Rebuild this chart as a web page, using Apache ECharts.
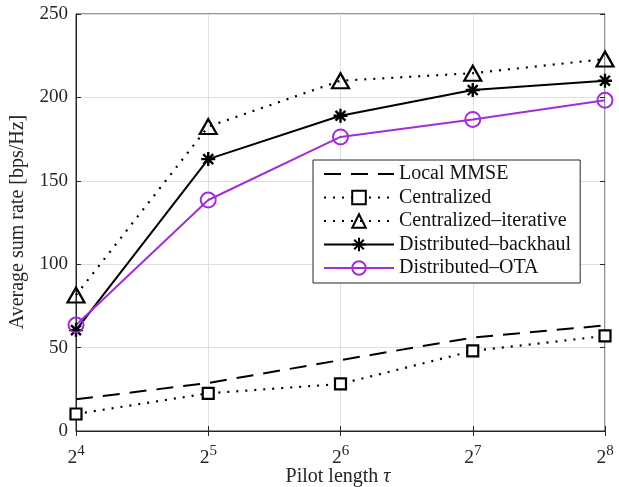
<!DOCTYPE html>
<html><head><meta charset="utf-8">
<script src="https://cdn.jsdelivr.net/npm/echarts@6/dist/echarts.min.js"></script>
<style>html,body{margin:0;padding:0;background:#fff}#c{width:619px;height:487px}</style>
</head><body><div id="c"></div>
<script>
var exponents = [4, 5, 6, 7, 8];
var localMMSE = [19, 28.8, 42.5, 56, 63.3];
var centralized = [10.2, 22.6, 28.2, 48, 57];
var centralizedIter = [81.5, 182.5, 210, 214.5, 223];
var distBackhaul = [60.5, 163, 189, 204.4, 210];
var distOTA = [63.5, 138.5, 176.3, 186.8, 198.3];
var yTicks = [0, 50, 100, 150, 200, 250];

var serif = '"Liberation Serif", "DejaVu Serif", serif';
var axisCol = '#262626';
var purple = '#A12ED6';
var star = 'path://M0,-10L0,10M-10,0L10,0M-7.07,-7.07L7.07,7.07M-7.07,7.07L7.07,-7.07';
var cats = exponents.map(function(e){return String(e);});

var chart = echarts.init(document.getElementById('c'), null, {renderer:'canvas'});
var option = {
  animation: false,
  backgroundColor: '#fff',
  grid: {left: 76, right: 14, top: 14, bottom: 56, show: true, borderColor: axisCol, borderWidth: 1},
  xAxis: [{
    type: 'category', data: cats, boundaryGap: false,
    axisLine: {lineStyle: {color: axisCol}},
    axisTick: {inside: true, length: 5, lineStyle: {color: axisCol}, alignWithLabel: true},
    splitLine: {show: true, lineStyle: {color: '#dfdfdf', width: 1}},
    axisLabel: {margin: 17, formatter: function(v){return '{b|2}{s|' + v + '}';},
      rich: {b: {fontFamily: serif, fontSize: 19.5, color: axisCol, verticalAlign: 'bottom', lineHeight: 20},
             s: {fontFamily: serif, fontSize: 15, color: axisCol, verticalAlign: 'bottom', lineHeight: 20, padding: [0, 0, 9, 0]}}}
  }, {
    type: 'category', data: cats, boundaryGap: false, position: 'top',
    axisLine: {show: false}, axisLabel: {show: false},
    axisTick: {inside: true, length: 5, lineStyle: {color: axisCol}}
  }],
  yAxis: [{
    type: 'value', min: 0, max: 250, interval: 50,
    axisLine: {show: true, lineStyle: {color: axisCol}},
    axisTick: {show: true, inside: true, length: 5, lineStyle: {color: axisCol}},
    splitLine: {show: true, lineStyle: {color: '#dfdfdf', width: 1}},
    axisLabel: {margin: 8, fontFamily: serif, fontSize: 19, color: axisCol,
      formatter: function(v){return yTicks.indexOf(v) >= 0 ? String(v) : '';}}
  }, {
    type: 'value', min: 0, max: 250, interval: 50, position: 'right',
    axisLine: {show: false}, axisLabel: {show: false}, splitLine: {show: false},
    axisTick: {show: true, inside: true, length: 5, lineStyle: {color: axisCol}}
  }],
  graphic: [
    {type: 'text', x: 18, y: 222, rotation: Math.PI / 2,
      style: {text: 'Average sum rate [bps/Hz]', fontFamily: serif, fontSize: 20, fill: axisCol,
        align: 'center', verticalAlign: 'middle'}},
    {type: 'text', x: 338, y: 477,
      style: {text: 'Pilot length {i|τ}', fontFamily: serif, fontSize: 20, fill: axisCol,
        align: 'center', verticalAlign: 'middle',
        rich: {i: {fontFamily: serif, fontStyle: 'italic', fontSize: 20, fill: axisCol}}}}
  ],
  legend: {
    orient: 'vertical', left: 313, top: 160,
    backgroundColor: '#fff', borderColor: axisCol, borderWidth: 1, borderRadius: 0,
    padding: [4, 9, 5, 10], itemGap: 3.5, itemWidth: 70, itemHeight: 17,
    textStyle: {fontFamily: serif, fontSize: 20, lineHeight: 20, color: '#111'},
    data: ['Local MMSE', 'Centralized', 'Centralized\u2013iterative', 'Distributed\u2013backhaul', 'Distributed\u2013OTA']
  },
  series: [
    {name: 'Local MMSE', type: 'line', data: localMMSE, showSymbol: false, symbol: 'circle', symbolSize: 0,
      lineStyle: {color: '#000', width: 2, type: [17, 10]},
      itemStyle: {color: 'rgba(0,0,0,0)', borderColor: 'rgba(0,0,0,0)', borderWidth: 0}},
    {name: 'Centralized', type: 'line', data: centralized, symbol: 'rect', symbolSize: 11,
      lineStyle: {color: '#000', width: 2.2, type: [2, 7]},
      itemStyle: {color: '#fff', borderColor: '#000', borderWidth: 2.2}},
    {name: 'Centralized\u2013iterative', type: 'line', data: centralizedIter, symbol: 'triangle', symbolSize: [17, 15],
      lineStyle: {color: '#000', width: 2.2, type: [2, 7]},
      itemStyle: {color: 'rgba(255,255,255,0)', borderColor: '#000', borderWidth: 2.2}},
    {name: 'Distributed\u2013backhaul', type: 'line', data: distBackhaul, symbol: star, symbolSize: 14,
      lineStyle: {color: '#000', width: 2},
      itemStyle: {color: '#000', borderColor: '#000', borderWidth: 2.4}},
    {name: 'Distributed\u2013OTA', type: 'line', data: distOTA, symbol: 'circle', symbolSize: 15,
      lineStyle: {color: purple, width: 2},
      itemStyle: {color: 'rgba(255,255,255,0)', borderColor: purple, borderWidth: 2}}
  ]
};
chart.setOption(option);
</script></body></html>
